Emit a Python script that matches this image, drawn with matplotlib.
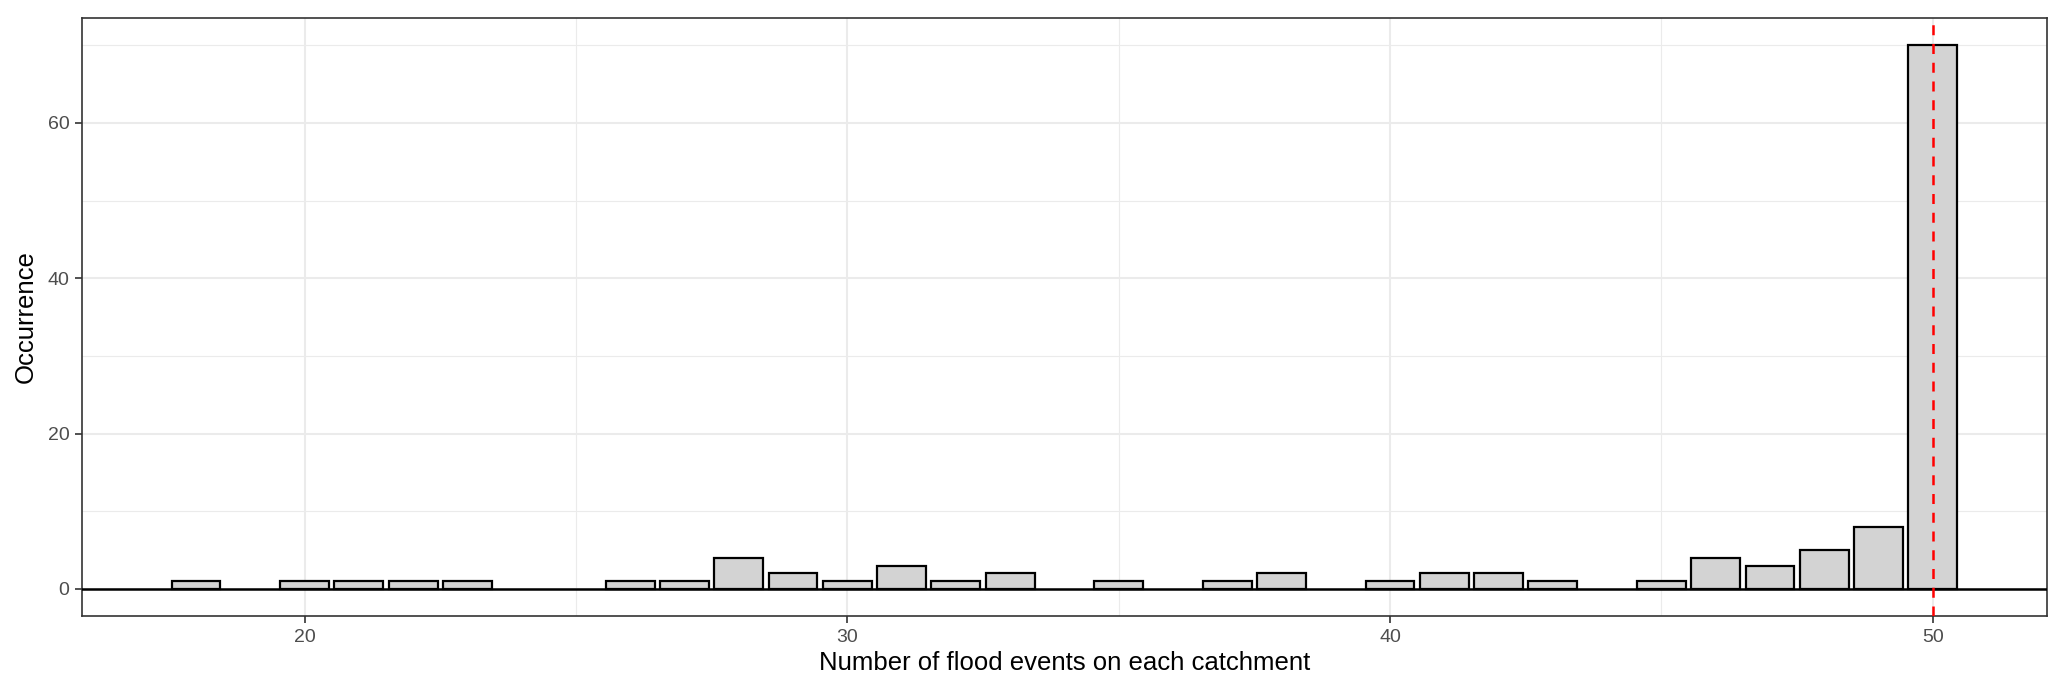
import matplotlib
matplotlib.use("Agg")
import matplotlib.pyplot as plt
from matplotlib.ticker import MultipleLocator

# number of flood events per catchment -> count of catchments
n_events = [18, 20, 21, 22, 23, 26, 27, 28, 29, 30, 31, 32, 33, 35, 37, 38,
            40, 41, 42, 43, 45, 46, 47, 48, 49, 50]
occurrence = [1, 1, 1, 1, 1, 1, 1, 4, 2, 1, 3, 1, 2, 1, 1, 2,
              1, 2, 2, 1, 1, 4, 3, 5, 8, 70]
threshold = 50

plt.rcParams['font.family'] = ['Liberation Sans', 'DejaVu Sans']

fig = plt.figure(figsize=(20.67, 6.9), dpi=100)
ax = fig.add_axes([0.0397, 0.107, 0.9505, 0.867])

ax.bar(n_events, occurrence, width=0.9, color='#D3D3D3', edgecolor='black',
       linewidth=1.6, zorder=3)
ax.axhline(0, color='black', linewidth=1.8, zorder=4)
ax.axvline(threshold, color='red', linestyle=(0, (4, 3.5)), linewidth=1.8, zorder=5)

ax.set_xlim(15.9, 52.1)
ax.set_ylim(-3.5, 73.5)
ax.xaxis.set_minor_locator(MultipleLocator(5))
ax.yaxis.set_minor_locator(MultipleLocator(10))
ax.set_xticks([20, 30, 40, 50])
ax.set_yticks([0, 20, 40, 60])

ax.grid(which='major', color='#EBEBEB', linewidth=1.5, zorder=0)
ax.grid(which='minor', color='#EBEBEB', linewidth=0.8, zorder=0)
ax.set_axisbelow(True)

for s in ax.spines.values():
    s.set_color('#333333')
    s.set_linewidth(1.2)

ax.tick_params(which='major', length=5, width=1.2, color='#333333',
               labelsize=14, labelcolor='#4D4D4D', pad=4)
ax.tick_params(which='minor', length=0)

ax.set_xlabel('Number of flood events on each catchment', fontsize=18.5, color='black', labelpad=4)
ax.set_ylabel('Occurrence', fontsize=18.5, color='black', labelpad=7)

fig.savefig('out.png', dpi=100, facecolor='white')
